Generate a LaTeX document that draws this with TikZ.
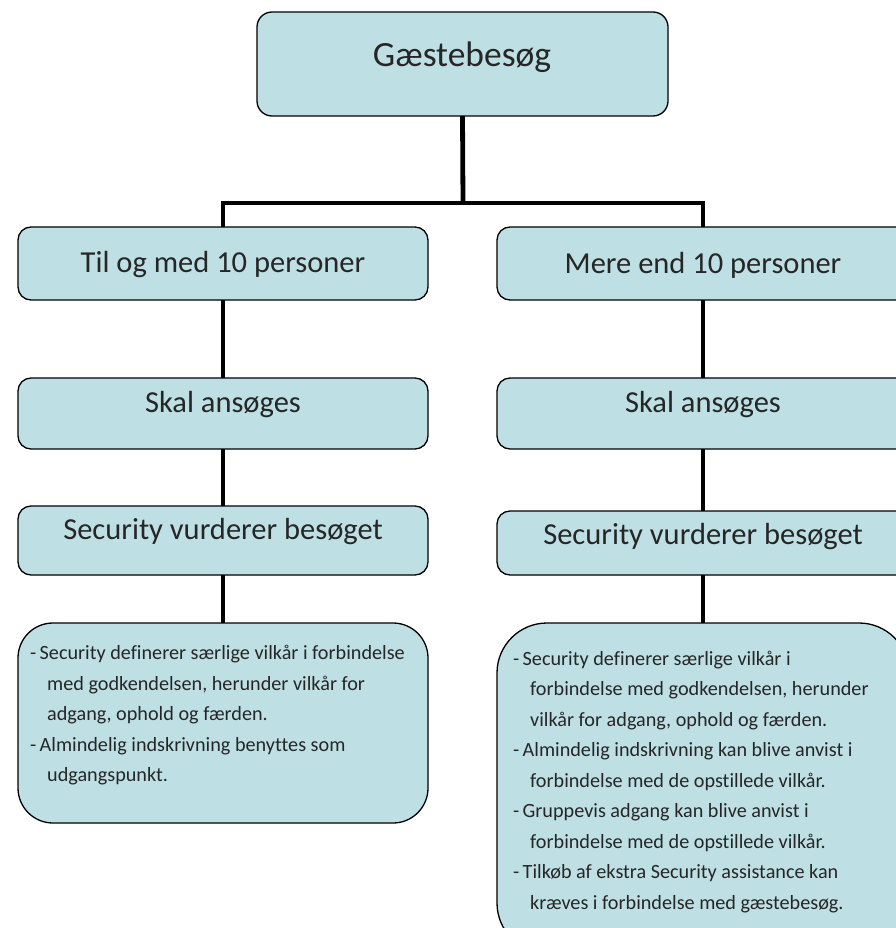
\documentclass[tikz,border=0pt]{standalone}
\usepackage{fontspec}
\setmainfont{Carlito}[Ligatures=NoCommon]
\definecolor{boxfill}{RGB}{190,224,228}
\definecolor{txt}{RGB}{38,38,38}
\tikzset{
  x=1pt, y=-1pt,
  box/.style={draw=black, line width=1.3pt, fill=boxfill, rounded corners=#1,
    anchor=north west, inner sep=0pt, outer sep=0pt},
  box/.default=13pt,
  conn/.style={line width=4.8pt, black},
  title/.style={text=txt, inner sep=0pt, font=\fontsize{35.5}{40}\selectfont},
  head/.style={text=txt, inner sep=0pt, font=\fontsize{30.5}{36}\selectfont},
  body/.style={text=txt, inner sep=0pt, anchor=north west,
    font=\fontsize{20.2}{30.5}\selectfont},
}
\newcommand{\ind}{\hspace*{17pt}}
\newcommand{\itm}{\makebox[9.5pt][l]{-}}
\begin{document}
\begin{tikzpicture}
\useasboundingbox (0,0) rectangle (895,928);
\coordinate (hub) at (463,203);
\node[box=15pt, minimum width=411pt, minimum height=104pt] (top) at (257,12) {};
\node[box, minimum width=410pt, minimum height=73pt] (l1) at (18,227) {};
\node[box, minimum width=412pt, minimum height=73pt] (r1) at (497,227) {};
\node[box, minimum width=410pt, minimum height=71pt] (l2) at (18,378) {};
\node[box, minimum width=412pt, minimum height=71pt] (r2) at (497,378) {};
\node[box, minimum width=410pt, minimum height=69pt] (l3) at (18,506) {};
\node[box, minimum width=412pt, minimum height=64pt] (r3) at (497,511) {};
\node[box=35pt, minimum width=410pt, minimum height=200pt] (l4) at (18,623) {};
\node[box=50pt, minimum width=412pt, minimum height=330pt] (r4) at (497,623) {};
\draw[conn] (top.south) -- (hub);
\draw[conn] (l1.north) |- (hub) -| (r1.north);
\draw[conn] (l1.south) -- (l2.north);
\draw[conn] (r1.south) -- (r2.north);
\draw[conn] (l2.south) -- (l3.north);
\draw[conn] (r2.south) -- (r3.north);
\draw[conn] (l3.south) -- (l4.north);
\draw[conn] (r3.south) -- (r4.north);
% texts
\node[title] (t0) at (462,57) {Gæstebesøg};
\node[head] (t1) at (223,265) {Til og med 10 personer};
\node[head] (t2) at (703,265) {Mere end 10 personer};
\node[head] (t3) at (223,405) {Skal ansøges};
\node[head] (t4) at (703,405) {Skal ansøges};
\node[head] (t5) at (223,532) {Security vurderer besøget};
\node[head] (t6) at (703,537) {Security vurderer besøget};
\node[body] (b1) at (30,645) {\parbox[t]{390pt}{\raggedright
\itm Security definerer særlige vilkår i forbindelse\\
\ind med godkendelsen, herunder vilkår for\\
\ind adgang, ophold og færden.\\
\itm Almindelig indskrivning benyttes som\\
\ind udgangspunkt.}};
\node[body] (b2) at (513,650.5) {\parbox[t]{380pt}{\raggedright
\itm Security definerer særlige vilkår i\\
\ind forbindelse med godkendelsen, herunder\\
\ind vilkår for adgang, ophold og færden.\\
\itm Almindelig indskrivning kan blive anvist i\\
\ind forbindelse med de opstillede vilkår.\\
\itm Gruppevis adgang kan blive anvist i\\
\ind forbindelse med de opstillede vilkår.\\
\itm Tilkøb af ekstra Security assistance kan\\
\ind kræves i forbindelse med gæstebesøg.}};
\end{tikzpicture}
\end{document}
